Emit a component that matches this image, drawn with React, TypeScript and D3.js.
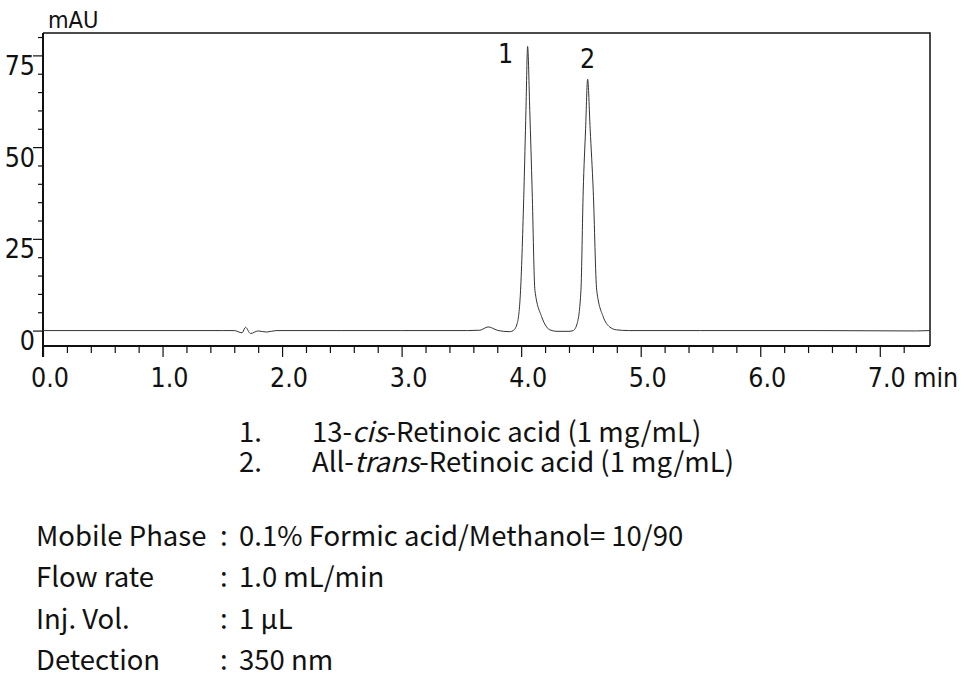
import { useRef, useEffect } from "react";
import * as d3 from "d3";

// ─── Data ────────────────────────────────────────────────────────────────────

const traceTime = [
  0.0, 1.5, 1.6, 1.665, 1.694, 1.736, 1.8, 1.87, 1.95, 2.5, 3.0, 3.55, 3.654,
  3.724, 3.8, 3.85, 3.905, 3.933, 3.967, 3.995, 4.023, 4.04, 4.054, 4.072,
  4.092, 4.115, 4.171, 4.213, 4.24, 4.3, 4.4, 4.435, 4.469, 4.5, 4.519,
  4.539, 4.556, 4.577, 4.603, 4.632, 4.686, 4.74, 4.798, 4.9, 5.5, 6.5,
  7.3, 7.42,
];

const traceMAU = [
  0, 0, 0, -0.6, 0.9, -0.8, -0.1, -0.4, 0, 0, 0, 0, 0.1,
  1.0, 0.1, -0.2, -0.3, 0, 2, 11, 38, 60, 77.4, 60,
  38, 11, 3.8, 1, 0.2, -0.2, -0.2, 0, 2, 11, 38,
  55, 68.5, 55, 38, 11, 3.8, 1, 0.2, 0, 0, 0,
  -0.1, 0,
];

const xMajorTicks = [0, 1, 2, 3, 4, 5, 6, 7];
const xTickLabels = ["0.0", "1.0", "2.0", "3.0", "4.0", "5.0", "6.0", "7.0 min"];
const yMajorTicks = [0, 25, 50, 75];
const yTickLabels = ["0", "25", "50", "75"];

const peakNames = ["1", "2"];
const peakLabelTime = [3.87, 4.556];
const peakLabelMAU = [73.0, 71.5];

const compoundNo = ["1.", "2."];
const compoundPre = ["13-", "All-"];
const compoundItalic = ["cis", "trans"];
const compoundPost = ["-Retinoic acid (1 mg/mL)", "-Retinoic acid (1 mg/mL)"];

const condLabels = ["Mobile Phase", "Flow rate", "Inj. Vol.", "Detection"];
const condValues = ["0.1% Formic acid/Methanol= 10/90", "1.0 mL/min", "1 µL", "350 nm"];

const W = 968;
const H = 685;
const PLOT = { left: 43, right: 930, top: 33, bottom: 346 };
const AXIS_FONT = "'DejaVu Sans Condensed', 'Liberation Sans', sans-serif";
const TEXT_FONT = "'Noto Sans CJK JP', 'Noto Sans', sans-serif";

export default function App() {
  const svgRef = useRef<SVGSVGElement>(null);

  useEffect(() => {
    if (!svgRef.current) return;
    const svg = d3.select(svgRef.current);
    svg.selectAll("*").remove();

    // ── Scales ──────────────────────────────────────────────────────────────
    const x = d3.scaleLinear().domain([0, 7.42]).range([PLOT.left, PLOT.right]);
    const y = d3.scaleLinear().domain([-4.2, 81.1]).range([PLOT.bottom, PLOT.top]);

    svg.append("rect").attr("width", W).attr("height", H).attr("fill", "#fff");

    // ── Frame (top + right) ─────────────────────────────────────────────────
    svg.append("path")
      .attr("d", `M${PLOT.left},${PLOT.top}H${PLOT.right}V${PLOT.bottom}`)
      .attr("fill", "none")
      .attr("stroke", "#111")
      .attr("stroke-width", 1.5);

    // ── Y axis ──────────────────────────────────────────────────────────────
    const yMinor = d3.range(0, 81, 5).filter((v) => !yMajorTicks.includes(v));
    const yAxisG = svg.append("g").attr("transform", `translate(${PLOT.left},0)`);
    yAxisG.append("g")
      .call(d3.axisLeft(y).tickValues(yMinor).tickSize(5).tickFormat(() => ""))
      .call((g) => g.select(".domain").remove());
    yAxisG.append("g")
      .call(d3.axisLeft(y).tickValues(yMajorTicks).tickSize(10).tickFormat(() => ""))
      .call((g) => g.select(".domain").remove());
    yAxisG.selectAll("line").attr("stroke", "#111").attr("stroke-width", 1.2);
    yAxisG.append("line")
      .attr("y1", PLOT.top).attr("y2", PLOT.bottom + 11)
      .attr("stroke", "#111").attr("stroke-width", 2);

    svg.append("g")
      .selectAll("text")
      .data(yMajorTicks)
      .join("text")
      .attr("x", 35)
      .attr("y", (d) => y(d) + 19.5)
      .attr("text-anchor", "end")
      .attr("font-family", AXIS_FONT)
      .attr("font-size", 26.5)
      .attr("fill", "#111")
      .text((_, i) => yTickLabels[i]);

    svg.append("text")
      .attr("x", 48).attr("y", 28)
      .attr("font-family", AXIS_FONT)
      .attr("font-size", 23.5)
      .attr("fill", "#111")
      .text("mAU");

    // ── X axis ──────────────────────────────────────────────────────────────
    const xMinor = d3.range(0, 37).map((i) => i * 0.2).filter((v) => Math.abs(v - Math.round(v)) > 1e-6);
    const xAxisG = svg.append("g").attr("transform", `translate(0,${PLOT.bottom})`);
    xAxisG.append("g")
      .call(d3.axisBottom(x).tickValues(xMinor).tickSize(7).tickFormat(() => ""))
      .call((g) => g.select(".domain").remove());
    xAxisG.append("g")
      .call(d3.axisBottom(x).tickValues(xMajorTicks).tickSize(11).tickFormat(() => ""))
      .call((g) => g.select(".domain").remove());
    xAxisG.selectAll("line").attr("stroke", "#111").attr("stroke-width", 1.2);
    xAxisG.append("line")
      .attr("x1", PLOT.left).attr("x2", PLOT.right)
      .attr("stroke", "#111").attr("stroke-width", 2);

    svg.append("g")
      .selectAll("text")
      .data(xMajorTicks)
      .join("text")
      .attr("x", (d) => x(d) - 12)
      .attr("y", 387)
      .attr("font-family", AXIS_FONT)
      .attr("font-size", 26.5)
      .attr("fill", "#111")
      .text((_, i) => xTickLabels[i]);

    // ── Trace ───────────────────────────────────────────────────────────────
    const pts = traceTime.map((t, i) => [t, traceMAU[i]] as [number, number]);
    const line = d3.line<[number, number]>()
      .x((d) => x(d[0]))
      .y((d) => y(d[1]))
      .curve(d3.curveMonotoneX);
    svg.append("path")
      .attr("d", line(pts) ?? "")
      .attr("fill", "none")
      .attr("stroke", "#333")
      .attr("stroke-width", 1);

    // ── Peak numbers ────────────────────────────────────────────────────────
    svg.append("g")
      .selectAll("text")
      .data(peakNames)
      .join("text")
      .attr("x", (_, i) => x(peakLabelTime[i]))
      .attr("y", (_, i) => y(peakLabelMAU[i]))
      .attr("text-anchor", "middle")
      .attr("font-family", AXIS_FONT)
      .attr("font-size", 26.5)
      .attr("fill", "#111")
      .text((d) => d);

    // ── Compound list ───────────────────────────────────────────────────────
    const legend = svg.append("g")
      .attr("font-family", TEXT_FONT)
      .attr("font-size", 27.5)
      .attr("fill", "#111");
    compoundNo.forEach((no, i) => {
      const yy = 442 + i * 30;
      legend.append("text").attr("x", 239).attr("y", yy).text(no);
      const t = legend.append("text").attr("x", 312).attr("y", yy);
      t.append("tspan").text(compoundPre[i]);
      t.append("tspan").attr("font-style", "italic").text(compoundItalic[i]);
      t.append("tspan").text(compoundPost[i]);
    });

    // ── Conditions ──────────────────────────────────────────────────────────
    const cond = svg.append("g")
      .attr("font-family", TEXT_FONT)
      .attr("font-size", 27.5)
      .attr("fill", "#111");
    condLabels.forEach((lab, i) => {
      const yy = 546 + i * 41.3;
      cond.append("text").attr("x", 36).attr("y", yy).text(lab);
      cond.append("text").attr("x", 220).attr("y", yy).text(":");
      cond.append("text").attr("x", 239).attr("y", yy).text(condValues[i]);
    });
  }, []);

  return (
    <svg
      ref={svgRef}
      width={W}
      height={H}
      style={{ position: "absolute", left: 0, top: 0, display: "block" }}
    />
  );
}
